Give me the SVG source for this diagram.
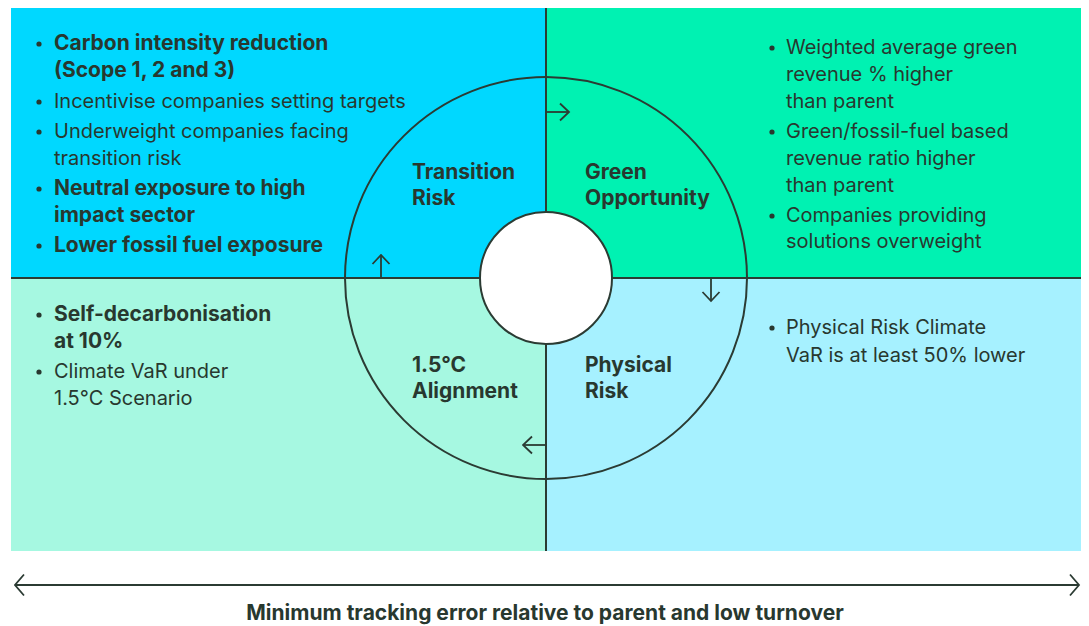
<svg xmlns="http://www.w3.org/2000/svg" width="1089" height="626" viewBox="0 0 1089 626">
<defs>
<style>
text{font-family:Inter,"Liberation Sans",sans-serif;fill:#28382f;}
.b{font-size:20px;}
.bb{font-size:21px;font-weight:700;}
.lbl{font-size:21px;font-weight:700;}
.ttl{font-size:21px;font-weight:700;}
.ln{stroke:#2b3b33;stroke-width:2;fill:none;}
.ar{stroke:#2b3b33;stroke-width:1.8;fill:none;stroke-linecap:butt;}
.dot{fill:#28382f;}
</style>
<marker id="chev" viewBox="0 0 12 20" refX="10.5" refY="10" markerWidth="12" markerHeight="20" markerUnits="userSpaceOnUse" orient="auto">
<path d="M1.5,1.5 L10.5,10 L1.5,18.5" fill="none" stroke="#2b3b33" stroke-width="1.8"/>
</marker>
<marker id="chevs" viewBox="0 0 12 24" refX="1.5" refY="12" markerWidth="12" markerHeight="24" markerUnits="userSpaceOnUse" orient="auto">
<path d="M10.5,1.5 L1.5,12 L10.5,22.5" fill="none" stroke="#2b3b33" stroke-width="1.8"/>
</marker>
<marker id="chevb" viewBox="0 0 12 24" refX="10.5" refY="12" markerWidth="12" markerHeight="24" markerUnits="userSpaceOnUse" orient="auto">
<path d="M1.5,1.5 L10.5,12 L1.5,22.5" fill="none" stroke="#2b3b33" stroke-width="1.8"/>
</marker>
</defs>
<rect width="1089" height="626" fill="#ffffff"/>
<g id="q-transition">
<rect x="11" y="8" width="535" height="270" fill="#00d8ff"/>
</g>
<g id="q-green">
<rect x="546" y="8" width="535" height="270" fill="#00f2b2"/>
</g>
<g id="q-alignment">
<rect x="11" y="278" width="535" height="273" fill="#a6f8e1"/>
</g>
<g id="q-physical">
<rect x="546" y="278" width="535" height="273" fill="#a6f1ff"/>
</g>
<g id="frame">
<line class="ln" x1="546" y1="8" x2="546" y2="551"/>
<line class="ln" x1="11" y1="278" x2="1081" y2="278"/>
<circle class="ln" cx="546" cy="278" r="201"/>
<circle cx="546" cy="278" r="66" fill="#ffffff" stroke="#2b3b33" stroke-width="2"/>
</g>
<g id="t-transition">
<circle class="dot" cx="39" cy="44" r="2.6"/>
<text class="bb" x="54" y="50">Carbon intensity reduction</text>
<text class="bb" x="54" y="77">(Scope 1, 2 and 3)</text>
<circle class="dot" cx="39" cy="102" r="2.6"/>
<text class="b" x="54" y="108">Incentivise companies setting targets</text>
<circle class="dot" cx="39" cy="132" r="2.6"/>
<text class="b" x="54" y="138">Underweight companies facing</text>
<text class="b" x="54" y="165">transition risk</text>
<circle class="dot" cx="39" cy="189" r="2.6"/>
<text class="bb" x="54" y="195">Neutral exposure to high</text>
<text class="bb" x="54" y="222">impact sector</text>
<circle class="dot" cx="39" cy="246" r="2.6"/>
<text class="bb" x="54" y="252">Lower fossil fuel exposure</text>
<text class="lbl" x="412" y="179">Transition</text>
<text class="lbl" x="412" y="205">Risk</text>
</g>
<g id="t-green">
<circle class="dot" cx="772" cy="48" r="2.6"/>
<text class="b" x="786" y="54">Weighted average green</text>
<text class="b" x="786" y="81">revenue % higher</text>
<text class="b" x="786" y="108">than parent</text>
<circle class="dot" cx="772" cy="132" r="2.6"/>
<text class="b" x="786" y="138">Green/fossil-fuel based</text>
<text class="b" x="786" y="165">revenue ratio higher</text>
<text class="b" x="786" y="192">than parent</text>
<circle class="dot" cx="772" cy="216" r="2.6"/>
<text class="b" x="786" y="222">Companies providing</text>
<text class="b" x="786" y="248">solutions overweight</text>
<text class="lbl" x="585" y="179">Green</text>
<text class="lbl" x="585" y="205">Opportunity</text>
</g>
<g id="t-alignment">
<circle class="dot" cx="39" cy="315" r="2.6"/>
<text class="bb" x="54" y="321">Self-decarbonisation</text>
<text class="bb" x="54" y="348">at 10%</text>
<circle class="dot" cx="39" cy="372" r="2.6"/>
<text class="b" x="54" y="378">Climate VaR under</text>
<text class="b" x="54" y="405">1.5°C Scenario</text>
<text class="lbl" x="412" y="372">1.5°C</text>
<text class="lbl" x="412" y="398">Alignment</text>
</g>
<g id="t-physical">
<circle class="dot" cx="772" cy="328" r="2.6"/>
<text class="b" x="786" y="334">Physical Risk Climate</text>
<text class="b" x="786" y="362">VaR is at least 50% lower</text>
<text class="lbl" x="585" y="372">Physical</text>
<text class="lbl" x="585" y="398">Risk</text>
</g>
<g id="connectors">
<line class="ar" x1="547" y1="112" x2="569" y2="112" marker-end="url(#chev)"/>
<line class="ar" x1="711" y1="279" x2="711" y2="301" marker-end="url(#chev)"/>
<line class="ar" x1="545" y1="445" x2="523" y2="445" marker-end="url(#chev)"/>
<line class="ar" x1="381" y1="277" x2="381" y2="255" marker-end="url(#chev)"/>
<line class="ar" x1="15" y1="585" x2="1079" y2="585" marker-start="url(#chevs)" marker-end="url(#chevb)"/>
</g>
<g id="footer">
<text class="ttl" x="545" y="620" text-anchor="middle">Minimum tracking error relative to parent and low turnover</text>
</g>
</svg>
